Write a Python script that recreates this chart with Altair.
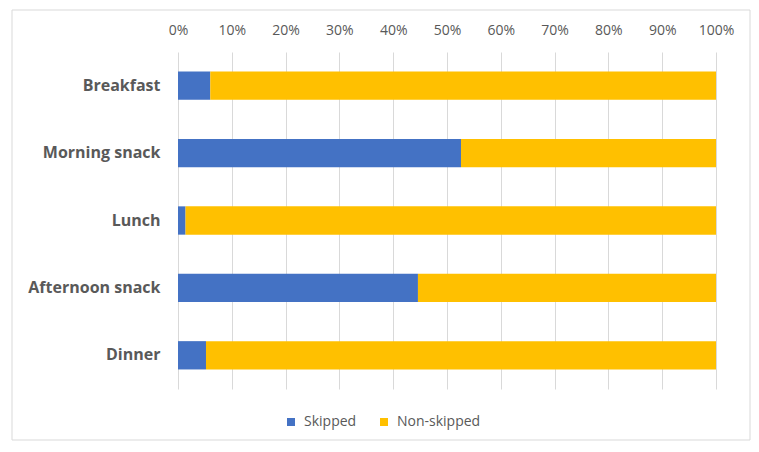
import altair as alt
import pandas as pd

meals = ["Breakfast", "Morning snack", "Lunch", "Afternoon snack", "Dinner"]
skipped = [6.0, 52.6, 1.4, 44.6, 5.2]
non_skipped = [94.0, 47.4, 98.6, 55.4, 94.8]
series = ["Skipped", "Non-skipped"]
colors = ["#4472C4", "#FFC000"]

rows = []
for m, s, n in zip(meals, skipped, non_skipped):
    rows.append({"meal": m, "status": "Skipped", "value": s / 100, "ord": 0})
    rows.append({"meal": m, "status": "Non-skipped", "value": n / 100, "ord": 1})
df = pd.DataFrame(rows)

FONT = "Open Sans"
TXT = "#595959"

bars = alt.Chart(df).mark_bar().encode(
    x=alt.X("value:Q", stack="zero",
            scale=alt.Scale(domain=[0, 1], nice=False),
            axis=alt.Axis(orient="top", format="%", values=[i / 10 for i in range(11)],
                          domain=False, ticks=False, grid=True, gridColor="#D9D9D9",
                          labelFontSize=14, labelColor=TXT, labelFont=FONT,
                          labelFlush=False, labelPadding=15, title=None)),
    y=alt.Y("meal:N", sort=meals,
            scale=alt.Scale(paddingInner=0.58, paddingOuter=0.29),
            axis=alt.Axis(domain=False, ticks=False, labelFontSize=16, labelFontWeight="bold",
                          labelColor=TXT, labelFont=FONT, labelPadding=18, title=None)),
    color=alt.Color("status:N", scale=alt.Scale(domain=series, range=colors),
                    legend=alt.Legend(title=None, orient="none", direction="horizontal",
                                      legendX=106, legendY=363, symbolType="square",
                                      symbolSize=64, labelFontSize=14, labelColor=TXT,
                                      labelFont=FONT, labelOffset=6, columnPadding=20,
                                      symbolStrokeWidth=0)),
    order=alt.Order("ord:Q"),
)

frame = alt.Chart(alt.Data(values=[{}])).mark_rect(
    fill=None, stroke="#D9D9D9", strokeWidth=1, clip=False
).encode(
    x=alt.value(-166), x2=alt.value(572), y=alt.value(-42), y2=alt.value(388)
)

chart = alt.layer(frame, bars).properties(
    width=538, height=337,
    padding={"left": 170, "top": 44, "right": 35, "bottom": 55},
    autosize=alt.AutoSizeParams(type="none"),
    background="white",
).configure_view(stroke=None)

chart.save("out.html", embed_options={"renderer": "svg", "actions": False})
